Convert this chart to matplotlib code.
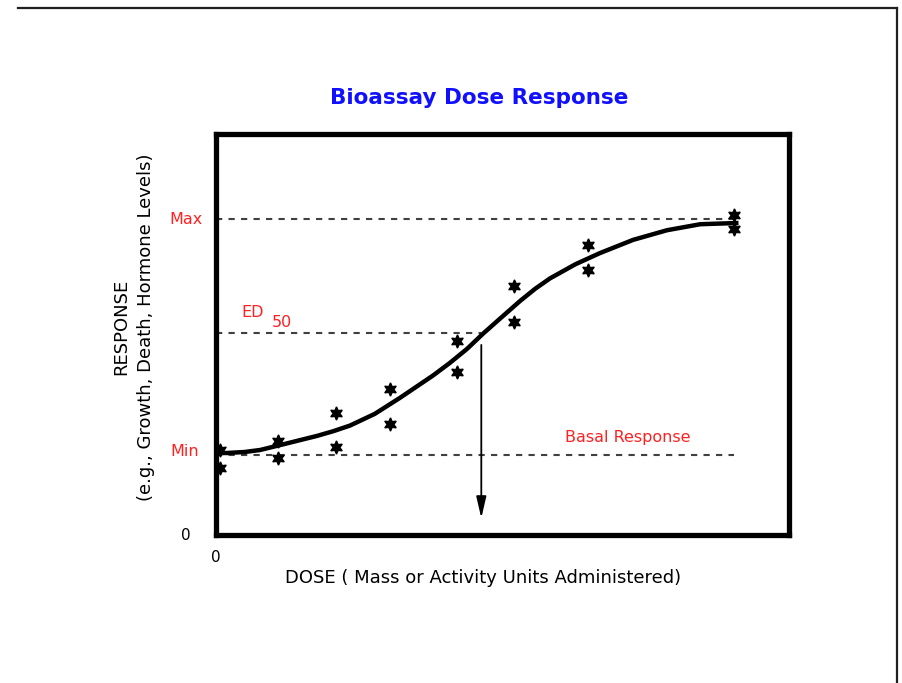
import matplotlib.pyplot as plt
from matplotlib.lines import Line2D

# Measured responses (two replicates at each dose)
dose = [0.7, 0.7, 10.8, 10.8, 20.9, 20.9, 30.4, 30.4, 42.1, 42.1, 52.0, 52.0, 64.9, 64.9, 90.4, 90.4]
response = [0.212, 0.167, 0.234, 0.192, 0.304, 0.219, 0.364, 0.277,
            0.484, 0.406, 0.621, 0.531, 0.723, 0.661, 0.798, 0.763]

# Fitted dose-response curve
curve_dose = [0, 1.9, 5.0, 7.7, 11.7, 14.5, 17.6, 20.5, 23.4, 27.7, 32.1, 35.0, 37.9, 40.8, 43.8, 46.6,
              49.6, 53.1, 55.7, 58.3, 62.7, 67.0, 72.8, 78.7, 84.5, 90.8]
curve_resp = [0.2045, 0.2045, 0.207, 0.212, 0.226, 0.236, 0.247, 0.259, 0.273, 0.302, 0.342, 0.370,
              0.398, 0.429, 0.464, 0.502, 0.540, 0.584, 0.614, 0.640, 0.675, 0.703, 0.736, 0.760,
              0.775, 0.778]

resp_min = 0.2
resp_max = 0.788
ed50_resp = 0.504
ed50_dose = 46.3
dose_end = 90.4

RED = '#ff2020'
GREY = '#404040'

plt.rcParams['font.family'] = ['DejaVu Sans']
fig = plt.figure(figsize=(9.03, 6.83), dpi=100)
fig.patch.set_facecolor('white')

# page frame lines (top and right)
fig.add_artist(Line2D([18 / 903, 897 / 903], [1 - 8 / 683, 1 - 8 / 683],
                      transform=fig.transFigure, color='#202020', lw=1.6))
fig.add_artist(Line2D([897 / 903, 897 / 903], [1 - 8 / 683, 0],
                      transform=fig.transFigure, color='#202020', lw=1.6))

ax = fig.add_axes([216 / 903, 1 - 535 / 683, 573 / 903, 401 / 683])
ax.set_xlim(0, 100)
ax.set_ylim(0, 1)
for s in ax.spines.values():
    s.set_linewidth(3.8)
    s.set_color('black')
ax.set_xticks([])
ax.set_yticks([])

# reference levels
ax.plot([0, dose_end], [resp_max, resp_max], color=GREY, lw=1.5, ls=(0, (3, 3)))
ax.plot([0, ed50_dose], [ed50_resp, ed50_resp], color=GREY, lw=1.5, ls=(0, (3, 3)))
ax.plot([0, dose_end], [resp_min, resp_min], color=GREY, lw=1.5, ls=(0, (3, 3)))

# curve and points
ax.plot(curve_dose, curve_resp, color='black', lw=3.2, solid_joinstyle='round')
ax.plot(dose, response, ls='none', marker=(6, 1, 0), markersize=9.5,
        color='black', clip_on=False)

# arrow down from the ED50 point
ax.annotate('', xy=(ed50_dose, 0.042), xytext=(ed50_dose, 0.474),
            arrowprops=dict(arrowstyle='-|>,head_length=1.3,head_width=0.3',
                            color='black', lw=1.3, shrinkA=0, shrinkB=0))

# level labels
tr = ax.get_yaxis_transform()
ax.text(-0.023, resp_max, 'Max', transform=tr, ha='right', va='center', color=RED, fontsize=11.5)
ax.text(-0.03, 0.209, 'Min', transform=tr, ha='right', va='center', color=RED, fontsize=11.5)
ax.text(-0.045, 0.0, '0', transform=tr, ha='right', va='center', color='black', fontsize=11)
ax.text(0, -0.055, '0', transform=ax.get_xaxis_transform(), ha='center', va='center', fontsize=11)
ax.text(4.5, 0.554, 'ED', ha='left', va='center', color=RED, fontsize=11.5)
ax.text(9.8, 0.529, '50', ha='left', va='center', color=RED, fontsize=11.5)
ax.text(71.9, 0.244, 'Basal Response', ha='center', va='center', color=RED, fontsize=11.5)

# titles
fig.text(479.5 / 903, 1 - 98 / 683, 'Bioassay Dose Response', ha='center', va='center',
         color='#1010ff', fontsize=15.5, fontweight='bold')
fig.text(483.5 / 903, 1 - 578 / 683, 'DOSE ( Mass or Activity Units Administered)',
         ha='center', va='center', fontsize=13)
fig.text(121 / 903, 1 - 327 / 683, 'RESPONSE', rotation=90, ha='center', va='center', fontsize=13)
fig.text(146 / 903, 1 - 327 / 683, '(e.g., Growth, Death, Hormone Levels)', rotation=90,
         ha='center', va='center', fontsize=13)

fig.savefig('out.png', dpi=100, facecolor='white')
